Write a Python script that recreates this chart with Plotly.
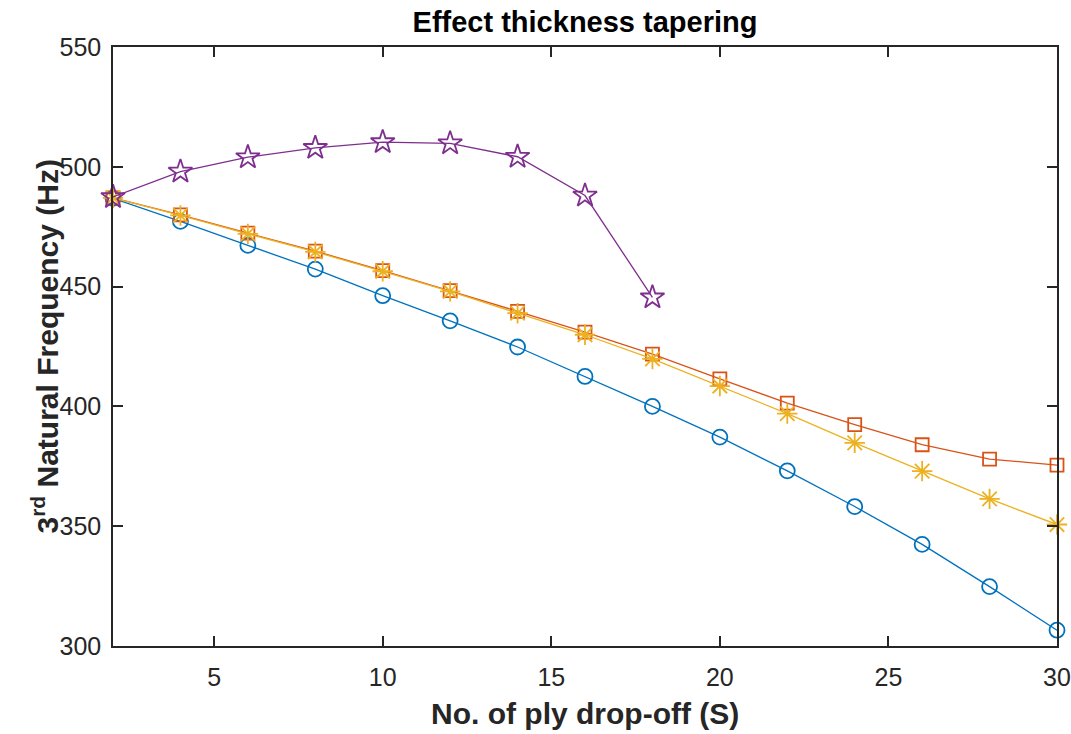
import plotly.graph_objects as go

S = [2, 4, 6, 8, 10, 12, 14, 16, 18, 20, 22, 24, 26, 28, 30]
blue_vals = [486.8, 477.2, 467.2, 457.3, 446.2, 435.7, 424.8, 412.5, 400.0, 387.2, 373.1, 358.2, 342.4, 324.8, 306.6]
red_vals = [487.0, 479.9, 472.3, 464.8, 456.7, 448.3, 439.7, 431.0, 421.8, 411.5, 401.4, 392.4, 384.0, 378.0, 375.5]
yellow_vals = [487.0, 479.7, 472.0, 464.5, 456.4, 448.0, 438.9, 429.9, 419.8, 408.5, 397.0, 384.8, 373.0, 361.4, 350.7]
S_purple = [2, 4, 6, 8, 10, 12, 14, 16, 18]
purple_vals = [487.4, 498.0, 504.0, 507.9, 510.3, 509.8, 504.2, 488.0, 445.5]

x_ticks = [5, 10, 15, 20, 25, 30]
y_ticks = [300, 350, 400, 450, 500, 550]

fig = go.Figure()
fig.add_trace(go.Scatter(x=S, y=blue_vals, mode="lines+markers", cliponaxis=False,
                         line=dict(color="#0072BD", width=1.3),
                         marker=dict(symbol="circle-open", size=15, color="#0072BD", line=dict(width=1.8))))
fig.add_trace(go.Scatter(x=S, y=red_vals, mode="lines+markers", cliponaxis=False,
                         line=dict(color="#D95319", width=1.3),
                         marker=dict(symbol="square-open", size=13, color="#D95319", line=dict(width=1.8))))
fig.add_trace(go.Scatter(x=S, y=yellow_vals, mode="lines+markers", cliponaxis=False,
                         line=dict(color="#EDB120", width=1.3),
                         marker=dict(symbol="asterisk-open", size=17, color="#EDB120", line=dict(width=1.8, color="#EDB120"))))
fig.add_trace(go.Scatter(x=S_purple, y=purple_vals, mode="lines+markers", cliponaxis=False,
                         line=dict(color="#7E2F8E", width=1.3),
                         marker=dict(symbol="star-open", size=18, color="#7E2F8E", line=dict(width=1.8))))

font_family = "Liberation Sans, Arial, sans-serif"
fig.update_layout(
    width=1071, height=734,
    margin=dict(l=113, r=14, t=47, b=88, autoexpand=False),
    paper_bgcolor="white", plot_bgcolor="white",
    showlegend=False,
    font=dict(family=font_family, color="#262626", size=25),
    title=dict(text="<b>Effect thickness tapering</b>", x=0.5, xanchor="center", xref="paper",
               yref="container", y=0.97, yanchor="middle", automargin=False,
               font=dict(size=29, color="black")),
    annotations=[
        dict(text="<b>No. of ply drop-off (S)</b>", xref="paper", yref="paper",
             x=0.5, y=(646 - 713) / 599, xanchor="center", yanchor="middle", showarrow=False,
             font=dict(size=30, color="#262626")),
        dict(text="<b>3<sup>rd</sup> Natural Frequency (Hz)</b>", xref="paper", yref="paper",
             x=(45 - 113) / 944, y=0.5, xanchor="center", yanchor="middle", showarrow=False,
             textangle=-90, font=dict(size=30, color="#262626")),
    ],
)
fig.update_xaxes(range=[2, 30], tickvals=x_ticks, ticks="inside", ticklen=10, tickwidth=1.5,
                 tickcolor="#262626", showline=True, linecolor="#262626", linewidth=1.5, mirror="ticks",
                 showgrid=False, zeroline=False, tickfont=dict(size=25), automargin=False,
                 ticklabelstandoff=8)
fig.update_yaxes(range=[300, 550], tickvals=y_ticks, ticks="inside", ticklen=10, tickwidth=1.5,
                 tickcolor="#262626", showline=True, linecolor="#262626", linewidth=1.5, mirror="ticks",
                 showgrid=False, zeroline=False, tickfont=dict(size=25), automargin=False,
                 ticklabelstandoff=5)

fig.write_html("out.html")
